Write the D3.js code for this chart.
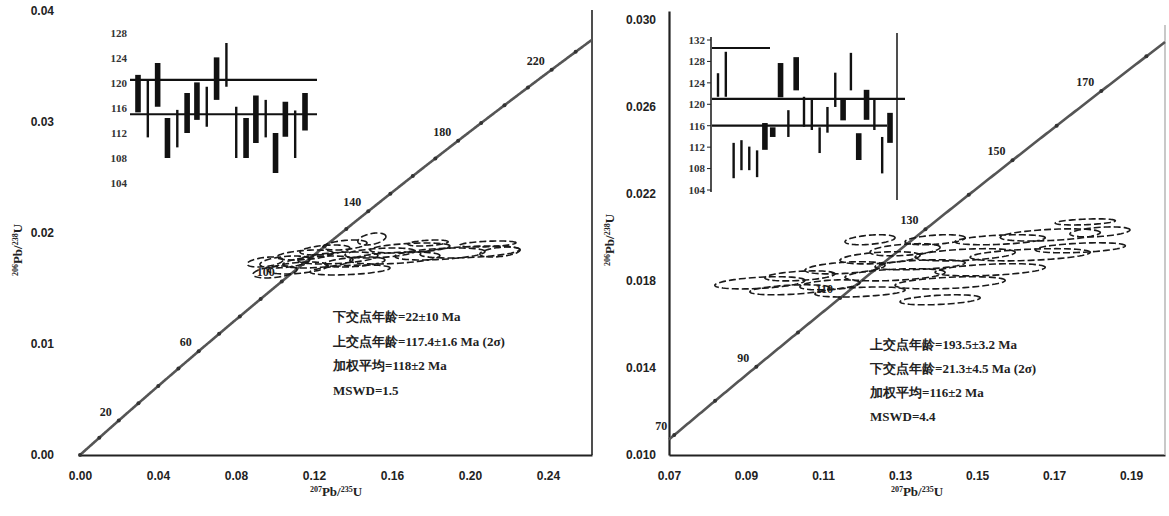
<!DOCTYPE html>
<html>
<head>
<meta charset="utf-8">
<script src="https://cdn.jsdelivr.net/npm/d3@7"></script>
<style>
  body { margin: 0; background: #fff; }
  svg { font-family: "Liberation Serif", "DejaVu Serif", serif; }
  .tick text { font-size: 12px; font-weight: bold; fill: #222; }
  .age-label { font-size: 12px; font-weight: bold; fill: #222; }
  .inset-label { font-size: 11px; font-weight: bold; fill: #333; }
  .result { font-size: 13px; font-weight: bold; fill: #222; }
  .axis-title { font-size: 13px; font-weight: bold; fill: #222; }
</style>
</head>
<body>
<svg id="chart" width="1169" height="516"></svg>
<script>
// decay constants (per Ma)
const L238 = 1.55125e-4, L235 = 9.8485e-4;

// ---- left panel data ----
const leftXTicks = [0, 0.04, 0.08, 0.12, 0.16, 0.20, 0.24];
const leftYTicks = [0, 0.01, 0.02, 0.03, 0.04];
const leftAgeLabels = [20, 60, 100, 140, 180, 220];
const leftR207 = [0.1000, 0.1051, 0.1118, 0.1154, 0.1221, 0.1256, 0.1323, 0.1359, 0.1410, 0.1497,
                  0.1538, 0.1615, 0.1692, 0.1785, 0.1846, 0.2000, 0.2092, 0.2154, 0.0949, 0.1385];
const leftR206 = [0.01649, 0.01739, 0.01685, 0.01802, 0.01739, 0.01847, 0.01775, 0.01892, 0.01739, 0.01946,
                  0.01820, 0.01775, 0.01865, 0.01910, 0.01811, 0.01829, 0.01901, 0.01829, 0.01739, 0.01667];
const leftErr207 = [0.0113, 0.0128, 0.0154, 0.0144, 0.0179, 0.0128, 0.0205, 0.0113, 0.0154, 0.0072,
                    0.0179, 0.0231, 0.0205, 0.0103, 0.0231, 0.0256, 0.0144, 0.0103, 0.0092, 0.0205];
const leftErr206 = [0.00054, 0.00054, 0.00054, 0.00045, 0.00054, 0.00045, 0.00054, 0.00045, 0.00045, 0.00054,
                    0.00045, 0.00054, 0.00045, 0.00027, 0.00054, 0.00054, 0.00027, 0.00045, 0.00045, 0.00045];

// left inset (weighted mean ages, Ma)
const leftInsetTicks = [104, 108, 112, 116, 120, 124, 128];
const leftInsetAge = [118.3, 115.9, 119.7, 111.2, 112.7, 115.2, 117.1, 116.2, 120.7, 122.9,
                      112.1, 111.2, 114.2, 114.3, 108.8, 114.2, 111.8, 115.4];
const leftInsetErr = [3.0, 4.6, 3.5, 3.2, 3.0, 3.2, 3.0, 3.2, 3.4, 3.5,
                      4.1, 3.2, 3.8, 3.0, 3.2, 2.8, 3.8, 3.0];
const leftInsetThin = [0, 1, 0, 0, 1, 0, 0, 1, 0, 1, 1, 0, 0, 1, 0, 0, 1, 0];
const leftInsetMeans = [120.5, 115.0];

const leftText = ["下交点年龄=22±10 Ma", "上交点年龄=117.4±1.6 Ma (2σ)", "加权平均=118±2 Ma", "MSWD=1.5"];

// ---- right panel data ----
const rightXTicks = [0.07, 0.09, 0.11, 0.13, 0.15, 0.17, 0.19];
const rightYTicks = [0.010, 0.014, 0.018, 0.022, 0.026, 0.030];
const rightAgeLabels = [70, 90, 110, 130, 150, 170];
const rightR207 = [0.0936, 0.1014, 0.1040, 0.1118, 0.1157, 0.1196, 0.1248, 0.1287, 0.1313, 0.1352, 0.1391,
                   0.1430, 0.1469, 0.1534, 0.1560, 0.1638, 0.1690, 0.1781, 0.1768, 0.1819, 0.1404, 0.1222];
const rightR206 = [0.01791, 0.01759, 0.01823, 0.01782, 0.01860, 0.01749, 0.01906, 0.01828, 0.01943, 0.01874, 0.01989,
                   0.01791, 0.01920, 0.01851, 0.01989, 0.01920, 0.02011, 0.02071, 0.01952, 0.02025, 0.01713, 0.01989];
const rightErr207 = [0.0117, 0.0104, 0.0091, 0.0078, 0.0104, 0.0117, 0.0104, 0.0130, 0.0091, 0.0117, 0.0078,
                     0.0143, 0.0130, 0.0143, 0.0117, 0.0156, 0.0130, 0.0078, 0.0117, 0.0078, 0.0104, 0.0065];
const rightErr206 = [0.00028, 0.00023, 0.00023, 0.00023, 0.00028, 0.00023, 0.00028, 0.00028, 0.00028, 0.00023, 0.00023,
                     0.00028, 0.00028, 0.00028, 0.00023, 0.00028, 0.00028, 0.00014, 0.00023, 0.00023, 0.00023, 0.00023];

const rightInsetTicks = [104, 108, 112, 116, 120, 124, 128, 132];
const rightInsetAge = [123.6, 125.6, 109.5, 110.5, 109.9, 108.9, 114.0, 114.8, 124.5, 116.4, 125.7, 118.6,
                       118.0, 113.3, 117.1, 122.7, 118.9, 126.1, 112.1, 119.9, 118.0, 110.5, 115.6];
const rightInsetErr = [2.2, 4.2, 3.3, 2.8, 2.2, 2.5, 2.5, 0.9, 3.2, 2.5, 3.1, 2.8,
                       2.8, 2.4, 2.4, 3.2, 1.9, 3.5, 2.5, 2.8, 2.8, 3.4, 2.8];
const rightInsetThin = [1, 1, 1, 1, 1, 1, 0, 0, 0, 1, 0, 1, 1, 1, 1, 1, 0, 1, 0, 0, 1, 1, 0];
const rightInsetMeans = [121.0, 116.0];
const rightInsetOld = 130.5;

const rightText = ["上交点年龄=193.5±3.2 Ma", "下交点年龄=21.3±4.5 Ma (2σ)", "加权平均=116±2 Ma", "MSWD=4.4"];

const svg = d3.select("#chart");

// concordia + ellipses for one panel
function drawPanel(p) {
    const g = svg.append("g");
    const x = d3.scaleLinear().domain(p.xDomain).range(p.xRange);
    const y = d3.scaleLinear().domain(p.yDomain).range(p.yRange);

    // x axis
    const xAxis = g.append("g")
        .attr("class", "axis")
        .attr("transform", `translate(0, ${p.yRange[0]})`)
        .call(d3.axisBottom(x).tickValues(p.xTicks).tickFormat(d3.format(".2f")).tickSize(0).tickPadding(16));
    xAxis.select(".domain").attr("stroke", "#222").attr("stroke-width", 2.2);

    // y axis
    const yAxis = g.append("g")
        .attr("class", "axis")
        .attr("transform", `translate(${p.xRange[0]}, 0)`)
        .call(d3.axisLeft(y).tickValues(p.yTicks).tickFormat(d3.format(p.yFmt)).tickSize(0).tickPadding(p.yPad));
    if (p.showYLine) {
        yAxis.select(".domain").attr("stroke", "#222").attr("stroke-width", 2.2);
    } else {
        yAxis.select(".domain").remove();
    }

    // frame line on the right
    g.append("line")
        .attr("x1", p.xRange[1]).attr("x2", p.xRange[1])
        .attr("y1", p.frameTop).attr("y2", p.yRange[0])
        .attr("stroke", p.frameColor).attr("stroke-width", 1.6);

    // concordia curve
    const t0 = Math.log(1 + p.xDomain[0]) / L235;
    const t1 = Math.log(1 + p.xDomain[1]) / L235;
    const curve = d3.range(t0, t1, 0.5).concat([t1]).map(t => [Math.exp(L235 * t) - 1, Math.exp(L238 * t) - 1]);
    g.append("path")
        .attr("d", d3.line().x(d => x(d[0])).y(d => y(d[1]))(curve))
        .attr("fill", "none")
        .attr("stroke", "#555")
        .attr("stroke-width", 2.6);

    // small markers every 10 Ma
    const marks = d3.range(Math.ceil(t0 / 10) * 10, t1, 10);
    g.selectAll(".cmark")
        .data(marks)
        .join("circle")
        .attr("cx", t => x(Math.exp(L235 * t) - 1))
        .attr("cy", t => y(Math.exp(L238 * t) - 1))
        .attr("r", 2)
        .attr("fill", "#333");

    g.selectAll(".age-label")
        .data(p.ages)
        .join("text")
        .attr("class", "age-label")
        .attr("x", t => x(Math.exp(L235 * t) - 1) - 7)
        .attr("y", t => y(Math.exp(L238 * t) - 1) - 5)
        .attr("text-anchor", "end")
        .text(t => t);

    // error ellipses
    const rho = 0.4;
    const thetas = d3.range(0, 2 * Math.PI, Math.PI / 36);
    p.r207.forEach((cx, i) => {
        const pts = thetas.map(th => [
            x(cx + p.e207[i] * Math.cos(th)),
            y(p.r206[i] + p.e206[i] * (rho * Math.cos(th) + Math.sqrt(1 - rho * rho) * Math.sin(th)))
        ]);
        g.append("path")
            .attr("d", d3.line()(pts) + "Z")
            .attr("fill", "none")
            .attr("stroke", "#1a1a1a")
            .attr("stroke-width", 1.6)
            .attr("stroke-dasharray", "7,3");
    });

    // result text
    g.selectAll(".result")
        .data(p.text)
        .join("text")
        .attr("class", "result")
        .attr("x", p.textX)
        .attr("y", (d, i) => p.textY + i * p.textStep)
        .text(d => d);

    // axis titles
    const xt = g.append("text").attr("class", "axis-title")
        .attr("x", (p.xRange[0] + p.xRange[1]) / 2).attr("y", 496).attr("text-anchor", "middle");
    xt.append("tspan").attr("baseline-shift", "super").attr("font-size", 8).text("207");
    xt.append("tspan").text("Pb/");
    xt.append("tspan").attr("baseline-shift", "super").attr("font-size", 8).text("235");
    xt.append("tspan").text("U");

    const yt = g.append("text").attr("class", "axis-title")
        .attr("transform", `translate(${p.yTitleX}, ${p.yTitleY}) rotate(-90)`)
        .attr("text-anchor", "middle");
    yt.append("tspan").attr("baseline-shift", "super").attr("font-size", 8).text("206");
    yt.append("tspan").text("Pb/");
    yt.append("tspan").attr("baseline-shift", "super").attr("font-size", 8).text("238");
    yt.append("tspan").text("U");
}

// weighted-mean inset
function drawInset(p) {
    const g = svg.append("g");
    const xs = d3.scalePoint().domain(d3.range(p.ages.length)).range(p.xRange);
    const ys = d3.scaleLinear().domain(d3.extent(p.ticks)).range(p.yRange);

    if (p.axisX) {
        g.append("line")
            .attr("x1", p.axisX).attr("x2", p.axisX)
            .attr("y1", ys(p.ticks[p.ticks.length - 1]) - 3).attr("y2", ys(p.ticks[0]) + 2)
            .attr("stroke", "#222").attr("stroke-width", 1.6);
        g.selectAll(".itick")
            .data(p.ticks)
            .join("line")
            .attr("x1", p.axisX - 4).attr("x2", p.axisX)
            .attr("y1", d => ys(d)).attr("y2", d => ys(d))
            .attr("stroke", "#222");
    }
    if (p.frameX) {
        g.append("line")
            .attr("x1", p.frameX).attr("x2", p.frameX)
            .attr("y1", p.frameY[0]).attr("y2", p.frameY[1])
            .attr("stroke", "#222").attr("stroke-width", 1.6);
    }

    g.selectAll(".inset-label")
        .data(p.ticks)
        .join("text")
        .attr("class", "inset-label")
        .attr("x", p.labelX)
        .attr("y", d => ys(d))
        .attr("dy", "0.35em")
        .attr("text-anchor", "end")
        .text(d => d);

    g.selectAll(".bar")
        .data(p.ages)
        .join("rect")
        .attr("x", (d, i) => xs(i) - (p.thin[i] ? 1.2 : 2.8))
        .attr("width", (d, i) => p.thin[i] ? 2.4 : 5.6)
        .attr("y", (d, i) => ys(d + p.errs[i]))
        .attr("height", (d, i) => ys(d - p.errs[i]) - ys(d + p.errs[i]))
        .attr("fill", "#111");

    g.selectAll(".mean")
        .data(p.means)
        .join("line")
        .attr("x1", p.lineX[0]).attr("x2", (d, i) => p.lineEnd[i])
        .attr("y1", d => ys(d)).attr("y2", d => ys(d))
        .attr("stroke", "#111").attr("stroke-width", 2.2);

    if (p.extra) {
        g.append("line")
            .attr("x1", p.lineX[0]).attr("x2", p.extra.end)
            .attr("y1", ys(p.extra.value)).attr("y2", ys(p.extra.value))
            .attr("stroke", "#111").attr("stroke-width", 2);
    }
}

drawPanel({
    xDomain: [0, 0.2626], xRange: [80, 592],
    yDomain: [0, 0.04], yRange: [455, 11],
    xTicks: leftXTicks, yTicks: leftYTicks, yFmt: ".2f", yPad: 26,
    showYLine: false, frameTop: 10, frameColor: "#222",
    ages: leftAgeLabels,
    r207: leftR207, r206: leftR206, e207: leftErr207, e206: leftErr206,
    text: leftText, textX: 333, textY: 321, textStep: 24.5,
    yTitleX: 22, yTitleY: 250
});

drawPanel({
    xDomain: [0.07, 0.1988], xRange: [669, 1165],
    yDomain: [0.010, 0.0304], yRange: [455, 11],
    xTicks: rightXTicks, yTicks: rightYTicks, yFmt: ".3f", yPad: 13,
    showYLine: true, frameTop: 25, frameColor: "#bbb",
    ages: rightAgeLabels,
    r207: rightR207, r206: rightR206, e207: rightErr207, e206: rightErr206,
    text: rightText, textX: 870, textY: 349, textStep: 24,
    yTitleX: 614, yTitleY: 240
});

drawInset({
    ages: leftInsetAge, errs: leftInsetErr, thin: leftInsetThin, ticks: leftInsetTicks,
    xRange: [138, 305], yRange: [183, 33], labelX: 127,
    means: leftInsetMeans, lineX: [130], lineEnd: [317, 317]
});

drawInset({
    ages: rightInsetAge, errs: rightInsetErr, thin: rightInsetThin, ticks: rightInsetTicks,
    xRange: [718, 890], yRange: [190, 40], labelX: 705,
    axisX: 711, frameX: 897, frameY: [33, 200],
    means: rightInsetMeans, lineX: [712], lineEnd: [905, 887],
    extra: { value: rightInsetOld, end: 770 }
});
</script>
</body>
</html>
